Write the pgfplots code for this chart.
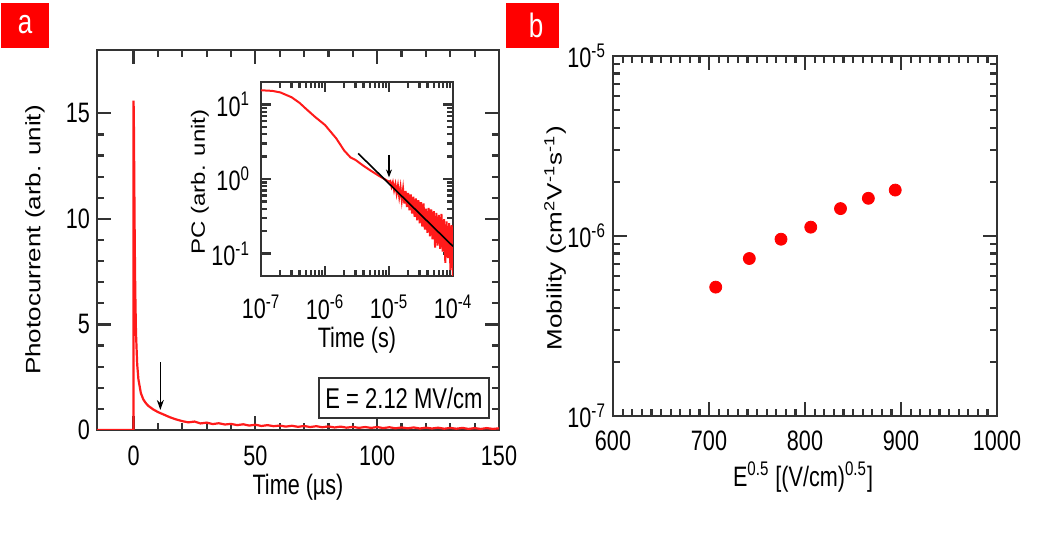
\documentclass[border=0pt]{standalone}
\usepackage{fontspec}
\setmainfont{Liberation Sans}
\usepackage{pgfplots}
\pgfplotsset{compat=1.18}
\usetikzlibrary{arrows.meta}
\definecolor{tagred}{HTML}{FF0000}
\definecolor{curvered}{HTML}{FF1A1A}
\definecolor{framegray}{HTML}{333333}

\newcommand{\lbl}{\fontsize{10.8}{12}\selectfont}
% the source figure is stretched vertically, so is its lettering
\newcommand{\vs}[1]{\scalebox{1}[1.3]{#1}}
\newcommand{\hs}[1]{\scalebox{1.25}[1]{#1}}

\begin{document}
\begin{tikzpicture}
\path[use as bounding box] (0pt,0pt) rectangle (528pt,273pt);

\pgfplotsset{
  box/.style={
    scale only axis,
    axis line style={line width=1.2pt, framegray},
    tick style={line width=1.1pt, framegray},
    major tick length=7pt, minor tick length=3.5pt,
    tick label style={font=\lbl},
    label style={font=\lbl},
    /pgf/number format/assume math mode=true,
    /pgf/number format/1000 sep={},
    xticklabel={\vs{\pgfmathprintnumber{\tick}}},
    yticklabel={\vs{\pgfmathprintnumber{\tick}}},
  },
  decades x/.style={log basis x=10, xticklabel={\vs{10\textsuperscript{\pgfmathprintnumber{\tick}}}}},
  decades y/.style={log basis y=10, yticklabel={\vs{10\textsuperscript{\pgfmathprintnumber{\tick}}}}},
}

% panel tags
\fill[tagred] (0.5pt,249pt) rectangle (24.5pt,271.5pt);
\node[white, font=\fontsize{13}{14}\selectfont] at (12.5pt,260.5pt) {\vs{a}};
\fill[tagred] (253pt,249pt) rectangle (279.5pt,271.5pt);
\node[white, font=\fontsize{13}{14}\selectfont] at (268pt,260.5pt) {\vs{b}};

% (a) photocurrent transient
\begin{axis}[box,
  at={(48.5pt,58pt)}, anchor=south west,
  width=201pt, height=190pt,
  xmin=-15, xmax=150, ymin=0, ymax=18,
  xtick={0,50,100,150}, minor x tick num=4,
  ytick={0,5,10,15}, minor y tick num=4,
  xticklabel style={yshift=-4.5pt},
  xlabel={\vs{Time (µs)}},
  ylabel={\hs{Photocurrent (arb. unit)}},
  xlabel style={at={(axis description cs:0.5,-0.15)}, anchor=center},
  ylabel style={at={(axis description cs:-0.154,0.5)}, anchor=center, font=\fontsize{10.4}{12}\selectfont},
]
\addplot[curvered, line width=1.1pt] coordinates {
(-15,0) (-0.05,0) (0,15.6) (0.1,15.0) (0.2,13.6) (0.3,11.8) (0.5,8.8)
(0.7,6.6) (1,4.6) (1.5,3.1) (2,2.4) (3,1.75) (4,1.45) (5,1.28) (6,1.15)
(8,0.98) (10,0.85) (12,0.75) (15,0.6) (17.5,0.5)
(20,0.42) (22.5,0.36) (25,0.40) (27.5,0.31) (30,0.35) (32.5,0.28) (35,0.32)
(37.5,0.26) (40,0.29) (42.5,0.23) (45,0.27) (47.5,0.21) (50,0.25) (52.5,0.19)
(55,0.23) (57.5,0.18) (60,0.21) (62.5,0.16) (65,0.20) (67.5,0.15) (70,0.19)
(72.5,0.14) (75,0.18) (77.5,0.13) (80,0.17) (82.5,0.12) (85,0.16) (87.5,0.11)
(90,0.15) (92.5,0.10) (95,0.14) (97.5,0.10) (100,0.14) (102.5,0.09) (105,0.13)
(107.5,0.08) (110,0.12) (112.5,0.08) (115,0.12) (117.5,0.07) (120,0.11)
(122.5,0.07) (125,0.11) (127.5,0.06) (130,0.10) (132.5,0.06) (135,0.10)
(137.5,0.05) (140,0.09) (142.5,0.05) (145,0.09) (147.5,0.05) (150,0.08)
};
\draw[-{Stealth[length=5pt,width=3.5pt]}, line width=0.6pt] (axis cs:11,3.2) -- (axis cs:11,0.95);
\node[draw=framegray, line width=1pt, fill=white, minimum height=20pt, inner xsep=3pt,
  font=\fontsize{11}{13}\selectfont] at (axis cs:111,1.5) {\vs{E = 2.12 MV/cm}};
\end{axis}

% (a) inset, log-log
\begin{axis}[box, decades x,
  at={(130.5pt,135pt)}, anchor=south west,
  width=96pt, height=97pt,
  axis background/.style={fill=white},
  xmode=log, ymode=log,
  xmin=1e-7, xmax=1e-4, ymin=0.05, ymax=20,
  major tick length=5pt, minor tick length=2.8pt,
  extra x ticks={2e-7,3e-7,4e-7,5e-7,6e-7,7e-7,8e-7,9e-7,
                 2e-6,3e-6,4e-6,5e-6,6e-6,7e-6,8e-6,9e-6,
                 2e-5,3e-5,4e-5,5e-5,6e-5,7e-5,8e-5,9e-5},
  extra x tick labels={},
  extra x tick style={major tick length=2.8pt},
  ytick={0.1,1,10},
  yticklabels={\vs{10\textsuperscript{-1}},\vs{10\textsuperscript{0}},\vs{10\textsuperscript{1}}},
  xticklabel style={yshift=-6pt},
  yticklabel style={xshift=-2pt},
  xlabel={\vs{Time (s)}},
  ylabel={\hs{PC (arb. unit)}},
  xlabel style={at={(axis description cs:0.5,-0.33)}, anchor=center},
  ylabel style={at={(axis description cs:-0.318,0.485)}, anchor=center, font=\fontsize{9.6}{11}\selectfont},
]
\addplot[curvered, line width=1pt] coordinates {
(1e-7,15.5) (1.5e-7,15.2) (2e-7,14.5) (3e-7,12.5) (4e-7,10.5) (5e-7,8.8)
(7e-7,6.8) (1e-6,5.3) (1.5e-6,3.5) (2e-6,2.4) (2.5e-6,1.95) (3e-6,1.8)
(4e-6,1.5) (5e-6,1.32) (7e-6,1.1) (1e-5,0.92)
(1.047e-5,0.94) (1.096e-5,0.79) (1.148e-5,0.90) (1.202e-5,0.71) (1.259e-5,0.85)
(1.318e-5,0.64) (1.380e-5,0.81) (1.445e-5,0.58) (1.514e-5,0.77) (1.585e-5,0.52)
(1.660e-5,0.73) (1.738e-5,0.47) (1.820e-5,0.69) (1.905e-5,0.42) (1.995e-5,0.65)
(2.089e-5,0.38) (2.188e-5,0.62) (2.291e-5,0.345) (2.399e-5,0.58) (2.512e-5,0.31)
(2.630e-5,0.55) (2.754e-5,0.28) (2.884e-5,0.52) (3.020e-5,0.255) (3.162e-5,0.49)
(3.311e-5,0.23) (3.467e-5,0.47) (3.631e-5,0.21) (3.802e-5,0.40) (3.981e-5,0.19)
(4.169e-5,0.41) (4.365e-5,0.17) (4.571e-5,0.39) (4.786e-5,0.155) (5.012e-5,0.37)
(5.248e-5,0.12) (5.495e-5,0.35) (5.754e-5,0.128) (6.026e-5,0.33) (6.310e-5,0.116)
(6.607e-5,0.34) (6.918e-5,0.106) (7.244e-5,0.29) (7.586e-5,0.075) (7.943e-5,0.27)
(8.318e-5,0.087) (8.710e-5,0.256) (9.120e-5,0.06) (9.550e-5,0.24) (1e-4,0.05)
};
\addplot[black, line width=0.8pt] coordinates {(3.3e-6,2.2) (1e-4,0.125)};
\draw[-{Stealth[length=4pt,width=3pt]}, line width=0.6pt] (axis cs:1e-5,2.1) -- (axis cs:1e-5,1.05);
\end{axis}

% (b) mobility vs sqrt(E)
\begin{axis}[box, decades y,
  at={(306.5pt,65pt)}, anchor=south west,
  width=192pt, height=180pt,
  xmin=600, xmax=1000, ymode=log, ymin=1e-7, ymax=1e-5,
  xtick={600,700,800,900,1000}, minor x tick num=9,
  extra y ticks={2e-7,3e-7,4e-7,5e-7,6e-7,7e-7,8e-7,9e-7,
                 2e-6,3e-6,4e-6,5e-6,6e-6,7e-6,8e-6,9e-6},
  extra y tick labels={},
  extra y tick style={major tick length=3.5pt},
  xticklabel style={yshift=-4pt},
  xlabel={\vs{E\textsuperscript{0.5} [(V/cm)\textsuperscript{0.5}]}},
  ylabel={\hs{Mobility (cm\textsuperscript{2}V\textsuperscript{-1}s\textsuperscript{-1})}},
  xlabel style={at={(axis description cs:0.495,-0.17)}, anchor=center},
  ylabel style={at={(axis description cs:-0.151,0.494)}, anchor=center, font=\fontsize{10.4}{12}\selectfont},
]
\addplot[only marks, mark=*, mark size=3pt, mark options={draw=tagred, fill=tagred}] coordinates {
(707,5.2e-7) (742,7.5e-7) (775,9.6e-7) (806,1.12e-6) (837,1.42e-6) (866,1.62e-6) (894,1.80e-6)
};
\end{axis}
\end{tikzpicture}
\end{document}
